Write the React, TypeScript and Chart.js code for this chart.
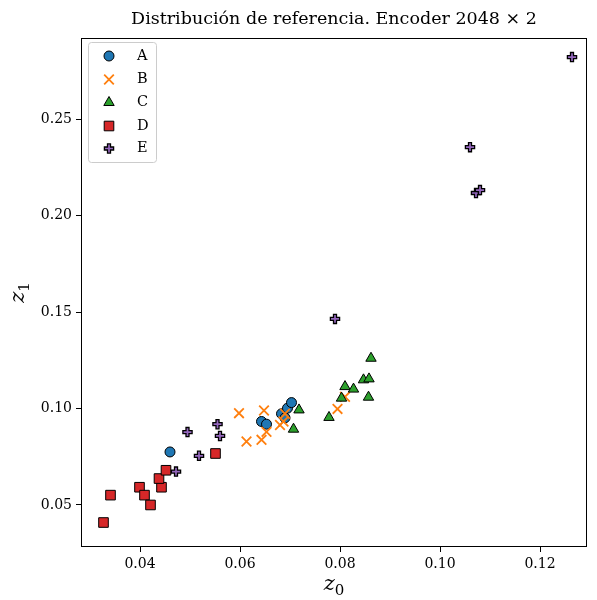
import React, { useEffect, useRef } from "react";
import { Chart, registerables } from "chart.js";

Chart.register(...registerables);

const seriesNames = ["A", "B", "C", "D", "E"];

const aX = [0.046, 0.0643, 0.0653, 0.0683, 0.0695, 0.0703, 0.069];
const aY = [0.0775, 0.0933, 0.0919, 0.0973, 0.1002, 0.1031, 0.0952];

const bX = [0.0598, 0.0648, 0.0613, 0.0643, 0.0653, 0.068, 0.0687, 0.069, 0.0795, 0.081];
const bY = [0.0976, 0.099, 0.0829, 0.0838, 0.0879, 0.0915, 0.0933, 0.0973, 0.0998, 0.1061];

const cX = [0.0718, 0.0707, 0.0778, 0.0803, 0.081, 0.0827, 0.0847, 0.0858, 0.0857, 0.0862];
const cY = [0.0993, 0.0893, 0.0954, 0.1054, 0.1114, 0.1101, 0.1149, 0.1154, 0.1059, 0.1261];

const dX = [0.0327, 0.0341, 0.0399, 0.0409, 0.0421, 0.0443, 0.0438, 0.0452, 0.0551];
const dY = [0.0409, 0.0551, 0.0592, 0.0551, 0.05, 0.0592, 0.0637, 0.068, 0.0767];

const eX = [0.1264, 0.106, 0.1072, 0.108, 0.079, 0.0495, 0.0555, 0.056, 0.0518, 0.0472];
const eY = [0.2823, 0.2356, 0.2118, 0.2133, 0.1465, 0.0878, 0.0919, 0.0858, 0.0755, 0.0673];

const xTicks = [0.04, 0.06, 0.08, 0.1, 0.12];
const yTicks = [0.05, 0.1, 0.15, 0.2, 0.25];

const titleText = "Distribución de referencia. Encoder 2048 × 2";

const SERIF = "'DejaVu Serif', serif";

function zip(xs: number[], ys: number[]) {
  return xs.map((x, i) => ({ x, y: ys[i] }));
}

function plusPath(ctx: CanvasRenderingContext2D, cx: number, cy: number) {
  const h = 4.6;
  const w = 1.5;
  ctx.beginPath();
  ctx.moveTo(cx - w, cy - h);
  ctx.lineTo(cx + w, cy - h);
  ctx.lineTo(cx + w, cy - w);
  ctx.lineTo(cx + h, cy - w);
  ctx.lineTo(cx + h, cy + w);
  ctx.lineTo(cx + w, cy + w);
  ctx.lineTo(cx + w, cy + h);
  ctx.lineTo(cx - w, cy + h);
  ctx.lineTo(cx - w, cy + w);
  ctx.lineTo(cx - h, cy + w);
  ctx.lineTo(cx - h, cy - w);
  ctx.lineTo(cx - w, cy - w);
  ctx.closePath();
}

function drawMarker(ctx: CanvasRenderingContext2D, ds: any, x: number, y: number) {
  const r = ds.radius;
  const st = ds.markerKind || ds.pointStyle;
  ctx.save();
  ctx.fillStyle = ds.markerFill || ds.backgroundColor;
  ctx.strokeStyle = ds.markerEdge || ds.borderColor;
  ctx.lineWidth = ds.markerEdgeWidth || ds.borderWidth;
  ctx.beginPath();
  if (st === "plus") {
    plusPath(ctx, x, y);
    ctx.fill();
    ctx.stroke();
  } else if (st === "circle") {
    ctx.arc(x, y, r, 0, Math.PI * 2);
    ctx.fill();
    ctx.stroke();
  } else if (st === "crossRot") {
    const o = r * Math.SQRT1_2;
    ctx.moveTo(x - o, y - o);
    ctx.lineTo(x + o, y + o);
    ctx.moveTo(x + o, y - o);
    ctx.lineTo(x - o, y + o);
    ctx.stroke();
  } else if (st === "triangle") {
    const a = -Math.PI / 2;
    for (let k = 0; k < 3; k++) {
      const t = a + (k * 2 * Math.PI) / 3;
      const px = x + Math.cos(t) * r;
      const py = y + Math.sin(t) * r;
      if (k === 0) ctx.moveTo(px, py);
      else ctx.lineTo(px, py);
    }
    ctx.closePath();
    ctx.fill();
    ctx.stroke();
  } else if (st === "rect") {
    const s = r * Math.SQRT1_2;
    ctx.rect(x - s, y - s, 2 * s, 2 * s);
    ctx.fill();
    ctx.stroke();
  }
  ctx.restore();
}

export default function App() {
  const ref = useRef<HTMLCanvasElement | null>(null);

  useEffect(() => {
    document.body.style.margin = "0";
    const canvas = ref.current!;

    const datasets: any[] = [
      {
        label: seriesNames[0],
        data: zip(aX, aY),
        pointStyle: "circle",
        radius: 5,
        backgroundColor: "#1f77b4",
        borderColor: "#000",
        borderWidth: 1,
        order: 5,
      },
      {
        label: seriesNames[1],
        data: zip(bX, bY),
        pointStyle: "crossRot",
        radius: 6.8,
        backgroundColor: "#ff7f0e",
        borderColor: "#ff7f0e",
        borderWidth: 1.8,
        order: 4,
      },
      {
        label: seriesNames[2],
        data: zip(cX, cY),
        pointStyle: "triangle",
        radius: 6,
        backgroundColor: "#2ca02c",
        borderColor: "#000",
        borderWidth: 1,
        order: 3,
      },
      {
        label: seriesNames[3],
        data: zip(dX, dY),
        pointStyle: "rect",
        radius: 6.8,
        backgroundColor: "#d62728",
        borderColor: "#000",
        borderWidth: 1,
        order: 2,
      },
      {
        label: seriesNames[4],
        data: zip(eX, eY),
        pointStyle: "circle",
        radius: 0,
        backgroundColor: "rgba(0,0,0,0)",
        borderColor: "rgba(0,0,0,0)",
        borderWidth: 0,
        markerKind: "plus",
        markerFill: "#9467bd",
        markerEdge: "#000",
        markerEdgeWidth: 1.3,
        order: 1,
      },
    ];

    const plusMarks = {
      id: "plusMarks",
      afterDatasetsDraw(chart: any) {
        const ctx = chart.ctx as CanvasRenderingContext2D;
        chart.data.datasets.forEach((ds: any, i: number) => {
          if (ds.markerKind !== "plus") return;
          const meta = chart.getDatasetMeta(i);
          meta.data.forEach((el: any) => drawMarker(ctx, ds, el.x, el.y));
        });
      },
    };

    const decor = {
      id: "decor",
      afterDraw(chart: any) {
        const ctx = chart.ctx as CanvasRenderingContext2D;
        const a = chart.chartArea;
        ctx.save();
        // frame
        ctx.strokeStyle = "#000";
        ctx.lineWidth = 1;
        ctx.strokeRect(
          Math.round(a.left) + 0.5,
          Math.round(a.top) + 0.5,
          Math.round(a.right - a.left) - 1,
          Math.round(a.bottom - a.top) - 1
        );

        // title
        ctx.fillStyle = "#000";
        ctx.font = `17.5px ${SERIF}`;
        ctx.textAlign = "center";
        ctx.textBaseline = "alphabetic";
        ctx.fillText(titleText, (a.left + a.right) / 2, 24);

        // x label z0
        const cxl = (a.left + a.right) / 2;
        ctx.textAlign = "left";
        ctx.font = `italic 21px ${SERIF}`;
        const zw = ctx.measureText("z").width;
        ctx.font = `15px ${SERIF}`;
        const sw = ctx.measureText("0").width;
        const x0 = cxl - (zw + sw) / 2;
        ctx.font = `italic 21px ${SERIF}`;
        ctx.fillText("z", x0, 590);
        ctx.font = `15px ${SERIF}`;
        ctx.fillText("0", x0 + zw, 595);

        // y label z1
        ctx.save();
        ctx.translate(24, (a.top + a.bottom) / 2);
        ctx.rotate(-Math.PI / 2);
        ctx.font = `italic 21px ${SERIF}`;
        const y0 = -(zw + sw) / 2;
        ctx.fillText("z", y0, 0);
        ctx.font = `15px ${SERIF}`;
        ctx.fillText("1", y0 + zw, 5);
        ctx.restore();

        // legend
        const lx = 88.5, ly = 42.5, lw = 68, lh = 120, r = 3;
        ctx.beginPath();
        ctx.moveTo(lx + r, ly);
        ctx.lineTo(lx + lw - r, ly);
        ctx.arcTo(lx + lw, ly, lx + lw, ly + r, r);
        ctx.lineTo(lx + lw, ly + lh - r);
        ctx.arcTo(lx + lw, ly + lh, lx + lw - r, ly + lh, r);
        ctx.lineTo(lx + r, ly + lh);
        ctx.arcTo(lx, ly + lh, lx, ly + lh - r, r);
        ctx.lineTo(lx, ly + r);
        ctx.arcTo(lx, ly, lx + r, ly, r);
        ctx.closePath();
        ctx.fillStyle = "rgba(255,255,255,0.8)";
        ctx.fill();
        ctx.strokeStyle = "#cccccc";
        ctx.lineWidth = 1;
        ctx.stroke();

        const rowY = [56, 79.5, 102.5, 126, 148.5];
        chart.data.datasets.forEach((ds: any, i: number) => {
          const my = rowY[i];
          drawMarker(ctx, ds, 109, my);
          ctx.fillStyle = "#000";
          ctx.font = `14.5px ${SERIF}`;
          ctx.textAlign = "left";
          ctx.textBaseline = "middle";
          ctx.fillText(ds.label, 137, my);
        });
        ctx.restore();
      },
    };

    const axisCommon = (ticksArr: number[]) => ({
      type: "linear",
      afterBuildTicks(scale: any) {
        scale.ticks = ticksArr.map((v) => ({ value: v }));
      },
      border: { display: false },
      grid: {
        display: true,
        drawOnChartArea: false,
        drawTicks: true,
        tickLength: 5,
        color: "#000",
      },
      ticks: {
        includeBounds: false,
        padding: 4,
        color: "#000",
        font: { family: SERIF, size: 14 },
        callback: (v: any) => Number(v).toFixed(2),
      },
    });

    const chart = new Chart(canvas, {
      type: "scatter",
      data: { datasets },
      options: {
        responsive: false,
        animation: false,
        layout: { padding: { top: 38, right: 10, left: 0, bottom: 0 } },
        plugins: {
          legend: { display: false },
          title: { display: false },
          tooltip: { enabled: false },
        },
        scales: {
          x: {
            ...axisCommon(xTicks),
            min: 0.0282,
            max: 0.1294,
            afterFit(scale: any) {
              scale.height = 53;
            },
          },
          y: {
            ...axisCommon(yTicks),
            min: 0.0282,
            max: 0.2922,
            afterFit(scale: any) {
              scale.width = 81;
            },
          },
        },
      },
      plugins: [plusMarks, decor],
    } as any);

    return () => chart.destroy();
  }, []);

  return (
    <div style={{ width: 597, height: 600 }}>
      <canvas ref={ref} width={597} height={600} />
    </div>
  );
}
